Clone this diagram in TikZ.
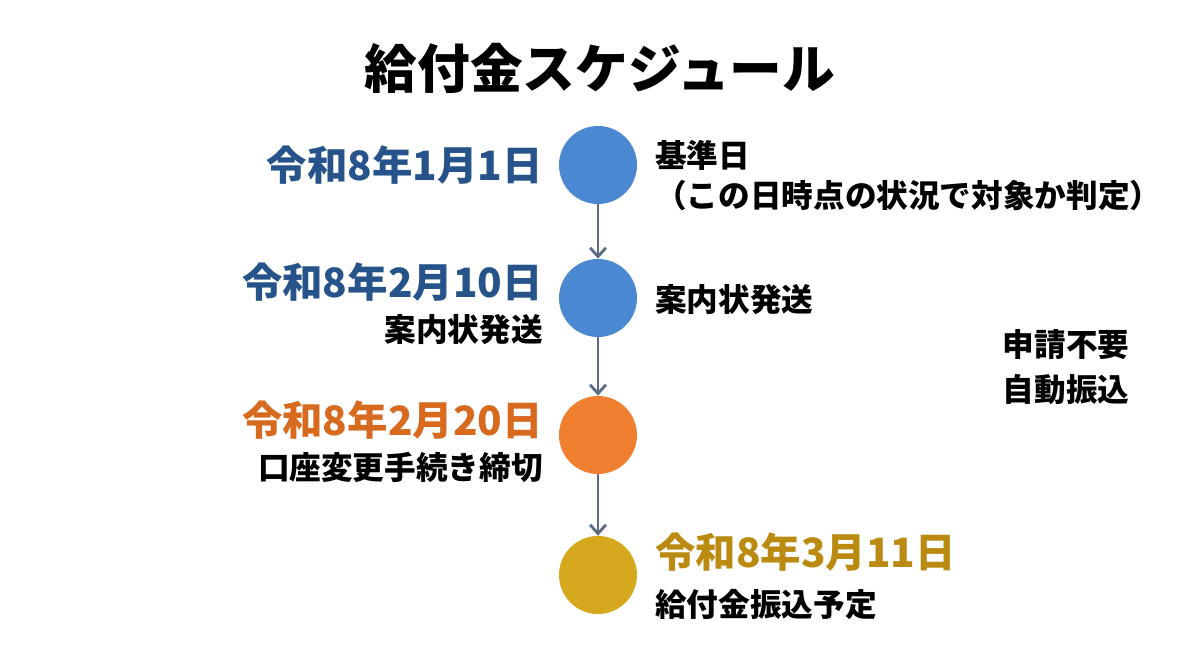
\documentclass[tikz,border=0pt]{standalone}
\usepackage{fontspec}
\setmainfont{Noto Sans CJK JP}
\usetikzlibrary{arrows.meta}
\definecolor{cblue}{HTML}{4A88D2}
\definecolor{corange}{HTML}{F08030}
\definecolor{cgold}{HTML}{D6A81E}
\definecolor{tblue}{HTML}{25538A}
\definecolor{torange}{HTML}{D86A20}
\definecolor{tgold}{HTML}{BB8A10}
\definecolor{arr}{HTML}{5B6B80}
\begin{document}
\begin{tikzpicture}[x=0.02cm,y=-0.02cm,
 dot/.style={circle,minimum size=78*0.02cm,inner sep=0},
 date/.style={font=\fontsize{23}{26}\selectfont\bfseries,inner sep=0},
 lbl/.style={font=\fontsize{18}{21}\selectfont\bfseries,inner sep=0},
 conn/.style={draw=arr,line width=1.6pt,-{Straight Barb[length=5pt,width=9pt]}}]
\useasboundingbox (0,0) rectangle (1200,670);
\node[font=\fontsize{30}{33}\selectfont\bfseries] (title) at (600,68) {給付金スケジュール};
\node[dot,fill=cblue] (c1) at (598,165) {};
\node[dot,fill=cblue] (c2) at (598,298) {};
\node[dot,fill=corange] (c3) at (598,435) {};
\node[dot,fill=cgold] (c4) at (598,575) {};
\draw[conn] (c1) -- (c2);
\draw[conn] (c2) -- (c3);
\draw[conn] (c3) -- (c4);
\node[date,text=tblue,anchor=east] (d1) at (543,165) {令和8年1月1日};
\node[date,text=tblue,anchor=east] (d2) at (543,282) {令和8年2月10日};
\node[lbl,anchor=east] (l2) at (543,330) {案内状発送};
\node[date,text=torange,anchor=east] (d3) at (543,420) {令和8年2月20日};
\node[lbl,anchor=east] (l3) at (543,468) {口座変更手続き締切};
\node[lbl,anchor=west] (r1) at (655,155) {基準日};
\node[lbl,anchor=west] (r1b) at (655,195) {（この日時点の状況で対象か判定）};
\node[lbl,anchor=west] (r2) at (655,300) {案内状発送};
\node[lbl] (n1) at (1066,345) {申請不要};
\node[lbl] (n2) at (1066,390) {自動振込};
\node[date,text=tgold,anchor=west] (d4) at (655,552) {令和8年3月11日};
\node[lbl,anchor=west] (l4) at (655,605) {給付金振込予定};
\end{tikzpicture}
\end{document}
